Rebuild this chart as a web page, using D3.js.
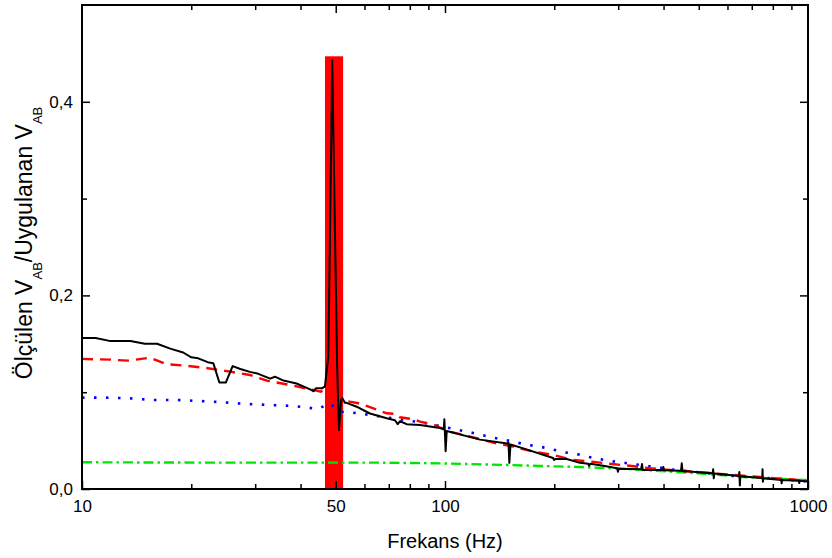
<!DOCTYPE html>
<html>
<head>
<meta charset="utf-8">
<script src="https://cdn.jsdelivr.net/npm/d3@7"></script>
<style>
  html, body { margin: 0; padding: 0; background: #fff; }
  svg { display: block; font-family: Arial, "Liberation Sans", sans-serif; }
</style>
</head>
<body>
<div id="chart"></div>
<script>
// measured V_AB ratio (black) and three model curves, frequency in Hz
const measured = [
  [10, 0.156], [10.9, 0.156], [11.9, 0.153], [13.6, 0.153], [14.9, 0.150], [16.1, 0.150],
  [17.5, 0.145], [19.0, 0.141], [20.0, 0.136], [20.9, 0.135], [22.2, 0.131], [23.0, 0.130],
  [23.9, 0.110], [24.9, 0.110], [26.0, 0.127], [27.3, 0.124], [29.0, 0.121], [30.6, 0.119],
  [33.0, 0.114], [34.0, 0.116], [35.9, 0.112], [39.0, 0.109], [42.5, 0.103], [43.4, 0.101],
  [44.1, 0.104], [45.8, 0.104], [46.7, 0.106], [47.7, 0.137], [48.2, 0.26], [48.9, 0.443],
  [49.8, 0.257], [50.5, 0.120], [51.05, 0.061], [51.7, 0.092], [52.1, 0.094], [53.0, 0.089],
  [53.6, 0.089], [57.1, 0.085], [62.1, 0.078], [69.1, 0.073], [72.8, 0.071], [74.1, 0.067],
  [75.2, 0.070], [78.4, 0.067], [85.3, 0.066], [96.9, 0.063], [99.2, 0.062], [99.6, 0.072],
  [100.4, 0.039], [101.1, 0.060], [124.9, 0.051], [148.5, 0.047], [149.6, 0.048], [150.4, 0.027],
  [151.5, 0.046], [164.3, 0.042], [198.5, 0.032], [199.8, 0.030], [201, 0.031], [216.4, 0.031],
  [235.4, 0.027], [248, 0.026], [249.5, 0.024], [251, 0.026], [273, 0.024], [298, 0.0214],
  [299.5, 0.0179], [301, 0.021], [347, 0.0204], [349, 0.0258], [350.5, 0.0196], [352, 0.020],
  [398, 0.0196], [399.5, 0.0227], [401, 0.0194], [447, 0.0189], [449, 0.0266], [451, 0.0187],
  [546, 0.0162], [548, 0.0204], [550, 0.0111], [552, 0.016], [645, 0.0134], [647, 0.0176],
  [649, 0.0036], [651, 0.0132], [748, 0.0114], [749.5, 0.0204], [751, 0.0075], [753, 0.0112],
  [844, 0.0093], [846, 0.0059], [848, 0.0092], [944, 0.0086], [946, 0.0062], [948, 0.0085],
  [1000, 0.0078]
];

const modelRed = [
  [10, 0.1344], [12.0, 0.1336], [13.4, 0.1326], [15.4, 0.1357], [16.4, 0.1316], [17.1, 0.1289],
  [19.2, 0.1275], [22.2, 0.1248], [25.6, 0.1212], [29.0, 0.1178], [32.3, 0.1119], [37.4, 0.1075],
  [42.5, 0.1030], [45.5, 0.1006], [47.0, 0.1041], [48.2, 0.1080], [49.5, 0.1040], [50.8, 0.1075],
  [51.9, 0.092], [54.7, 0.0902], [57.7, 0.0886], [63.5, 0.0834], [69.1, 0.0782], [73.6, 0.0775],
  [75.2, 0.0741], [81.8, 0.072], [85.3, 0.0696], [93.9, 0.0661], [96.9, 0.0634], [103.2, 0.0592],
  [119.7, 0.0534], [135.9, 0.0479], [154.3, 0.0437], [175.1, 0.0386], [198.8, 0.0351],
  [225.7, 0.030], [253.7, 0.0282], [287.9, 0.0258], [326.8, 0.0238], [367.1, 0.0214],
  [416.7, 0.0196], [483, 0.0179], [678, 0.0134], [892, 0.010], [1000, 0.0083]
];

const modelBlue = [
  [10, 0.0944], [11.6, 0.0944], [13.5, 0.0937], [15.7, 0.092], [18.2, 0.092], [21.1, 0.0909],
  [24.5, 0.0896], [28.4, 0.0878], [33.0, 0.0868], [38.2, 0.0858], [44.8, 0.0827], [48.0, 0.0886],
  [51.4, 0.0799], [55.5, 0.0789], [60.2, 0.0772], [64.6, 0.0755], [69.8, 0.0737], [75.2, 0.072],
  [80.5, 0.0703], [87.1, 0.0685], [93.9, 0.0661], [108.8, 0.061], [117.2, 0.0586], [126.2, 0.0558],
  [135.9, 0.053], [147.0, 0.0506], [158.2, 0.0479], [169.6, 0.0455], [182.7, 0.0437],
  [197.5, 0.041], [212.7, 0.0379], [230.5, 0.0362], [246.6, 0.0334], [266.1, 0.031],
  [286.1, 0.0289], [309.9, 0.0272], [333.8, 0.0255], [359.4, 0.0238], [386.9, 0.0224],
  [416.7, 0.0204], [448.7, 0.0189], [483.1, 0.0179], [560.4, 0.0155], [642.7, 0.0134],
  [745.7, 0.0117], [940.3, 0.0086], [1000, 0.0078]
];

const modelGreen = [
  [10, 0.0276], [25.0, 0.0272], [48.2, 0.0272], [66.2, 0.0272], [96.9, 0.0265], [147.9, 0.0248],
  [182.7, 0.0238], [232.5, 0.0227], [299.7, 0.0212], [393.6, 0.0186], [500.9, 0.0162],
  [678, 0.0121], [970.8, 0.0093], [1000, 0.0090]
];

// highlighted band around the 50 Hz supply frequency
const bandFreq = [46.7, 52.4];
const bandTop = 0.447;

const xMinorTicks = [20, 30, 40, 60, 70, 80, 90, 200, 300, 400, 500, 600, 700, 800, 900];
const xMajorTicks = [10, 50, 100, 1000];
const yMajorTicks = [0, 0.2, 0.4];
const yMinorTicks = [0.1, 0.3];

const W = 832, H = 558;
const margin = { top: 5, right: 24, bottom: 69, left: 82 };
const innerW = W - margin.left - margin.right;
const innerH = H - margin.top - margin.bottom;

const svg = d3.select('#chart').append('svg').attr('width', W).attr('height', H);
const g = svg.append('g').attr('transform', `translate(${margin.left},${margin.top})`);

const x = d3.scaleLog().domain([10, 1000]).range([0, innerW]);
const y = d3.scaleLinear().domain([0, 0.5]).range([innerH, 0]);

// band
g.append('rect')
  .attr('x', x(bandFreq[0])).attr('width', x(bandFreq[1]) - x(bandFreq[0]))
  .attr('y', y(bandTop)).attr('height', y(0) - y(bandTop))
  .attr('fill', '#ff0000');

const line = d3.line().x(d => x(d[0])).y(d => y(d[1]));

g.append('path').datum(modelGreen).attr('d', line)
  .attr('fill', 'none').attr('stroke', '#00e600').attr('stroke-width', 2.4)
  .attr('stroke-dasharray', '10,4,2.5,4');
g.append('path').datum(modelBlue).attr('d', line)
  .attr('fill', 'none').attr('stroke', '#0000ff').attr('stroke-width', 2.6)
  .attr('stroke-dasharray', '2.5,9.5');
g.append('path').datum(modelRed).attr('d', line)
  .attr('fill', 'none').attr('stroke', '#ff0000').attr('stroke-width', 2.4)
  .attr('stroke-dasharray', '11,7');
g.append('path').datum(measured).attr('d', line)
  .attr('fill', 'none').attr('stroke', '#000').attr('stroke-width', 2)
  .attr('stroke-linejoin', 'round');

// axes: ticks point inward on all four sides
const fmtY = d => d3.format('.1f')(d).replace('.', ',');

function styleAxis(sel) {
  sel.select('.domain').remove();
  sel.selectAll('line').attr('stroke', '#000').attr('stroke-width', 1.5);
  sel.selectAll('text').attr('fill', '#000').attr('font-size', '17px')
    .attr('font-family', 'Arial, "Liberation Sans", sans-serif');
}

g.append('g').attr('transform', `translate(0,${innerH})`)
  .call(d3.axisBottom(x).tickValues(xMinorTicks).tickFormat('').tickSizeInner(-5).tickSizeOuter(0))
  .call(styleAxis);
g.append('g').attr('transform', `translate(0,${innerH})`)
  .call(d3.axisBottom(x).tickValues(xMajorTicks).tickFormat(d3.format('d'))
    .tickSizeInner(-8).tickSizeOuter(0).tickPadding(11))
  .call(styleAxis);
g.append('g')
  .call(d3.axisTop(x).tickValues(xMinorTicks).tickFormat('').tickSizeInner(-5).tickSizeOuter(0))
  .call(styleAxis);
g.append('g')
  .call(d3.axisTop(x).tickValues([50, 100]).tickFormat('').tickSizeInner(-8).tickSizeOuter(0))
  .call(styleAxis);

g.append('g')
  .call(d3.axisLeft(y).tickValues(yMajorTicks).tickFormat(fmtY).tickSizeInner(-8).tickSizeOuter(0).tickPadding(9))
  .call(styleAxis);
g.append('g')
  .call(d3.axisLeft(y).tickValues(yMinorTicks).tickFormat('').tickSizeInner(-5).tickSizeOuter(0))
  .call(styleAxis);
g.append('g').attr('transform', `translate(${innerW},0)`)
  .call(d3.axisRight(y).tickValues(yMajorTicks).tickFormat('').tickSizeInner(-8).tickSizeOuter(0))
  .call(styleAxis);
g.append('g').attr('transform', `translate(${innerW},0)`)
  .call(d3.axisRight(y).tickValues(yMinorTicks).tickFormat('').tickSizeInner(-5).tickSizeOuter(0))
  .call(styleAxis);

// frame
g.append('rect').attr('width', innerW).attr('height', innerH)
  .attr('fill', 'none').attr('stroke', '#000').attr('stroke-width', 2);

// axis titles
svg.append('text')
  .attr('x', margin.left + innerW / 2).attr('y', 548)
  .attr('text-anchor', 'middle').attr('font-size', '20px').attr('fill', '#000')
  .text('Frekans (Hz)');

const yTitle = svg.append('text')
  .attr('transform', `translate(32,${margin.top + innerH / 2 - 4}) rotate(-90)`)
  .attr('text-anchor', 'middle').attr('font-size', '23px').attr('fill', '#000');
yTitle.append('tspan').text('Ölçülen V');
yTitle.append('tspan').attr('font-size', '13px').attr('dy', 10).text('AB');
yTitle.append('tspan').attr('dy', -10).text('/Uygulanan V');
yTitle.append('tspan').attr('font-size', '13px').attr('dy', 10).text('AB');
</script>
</body>
</html>
